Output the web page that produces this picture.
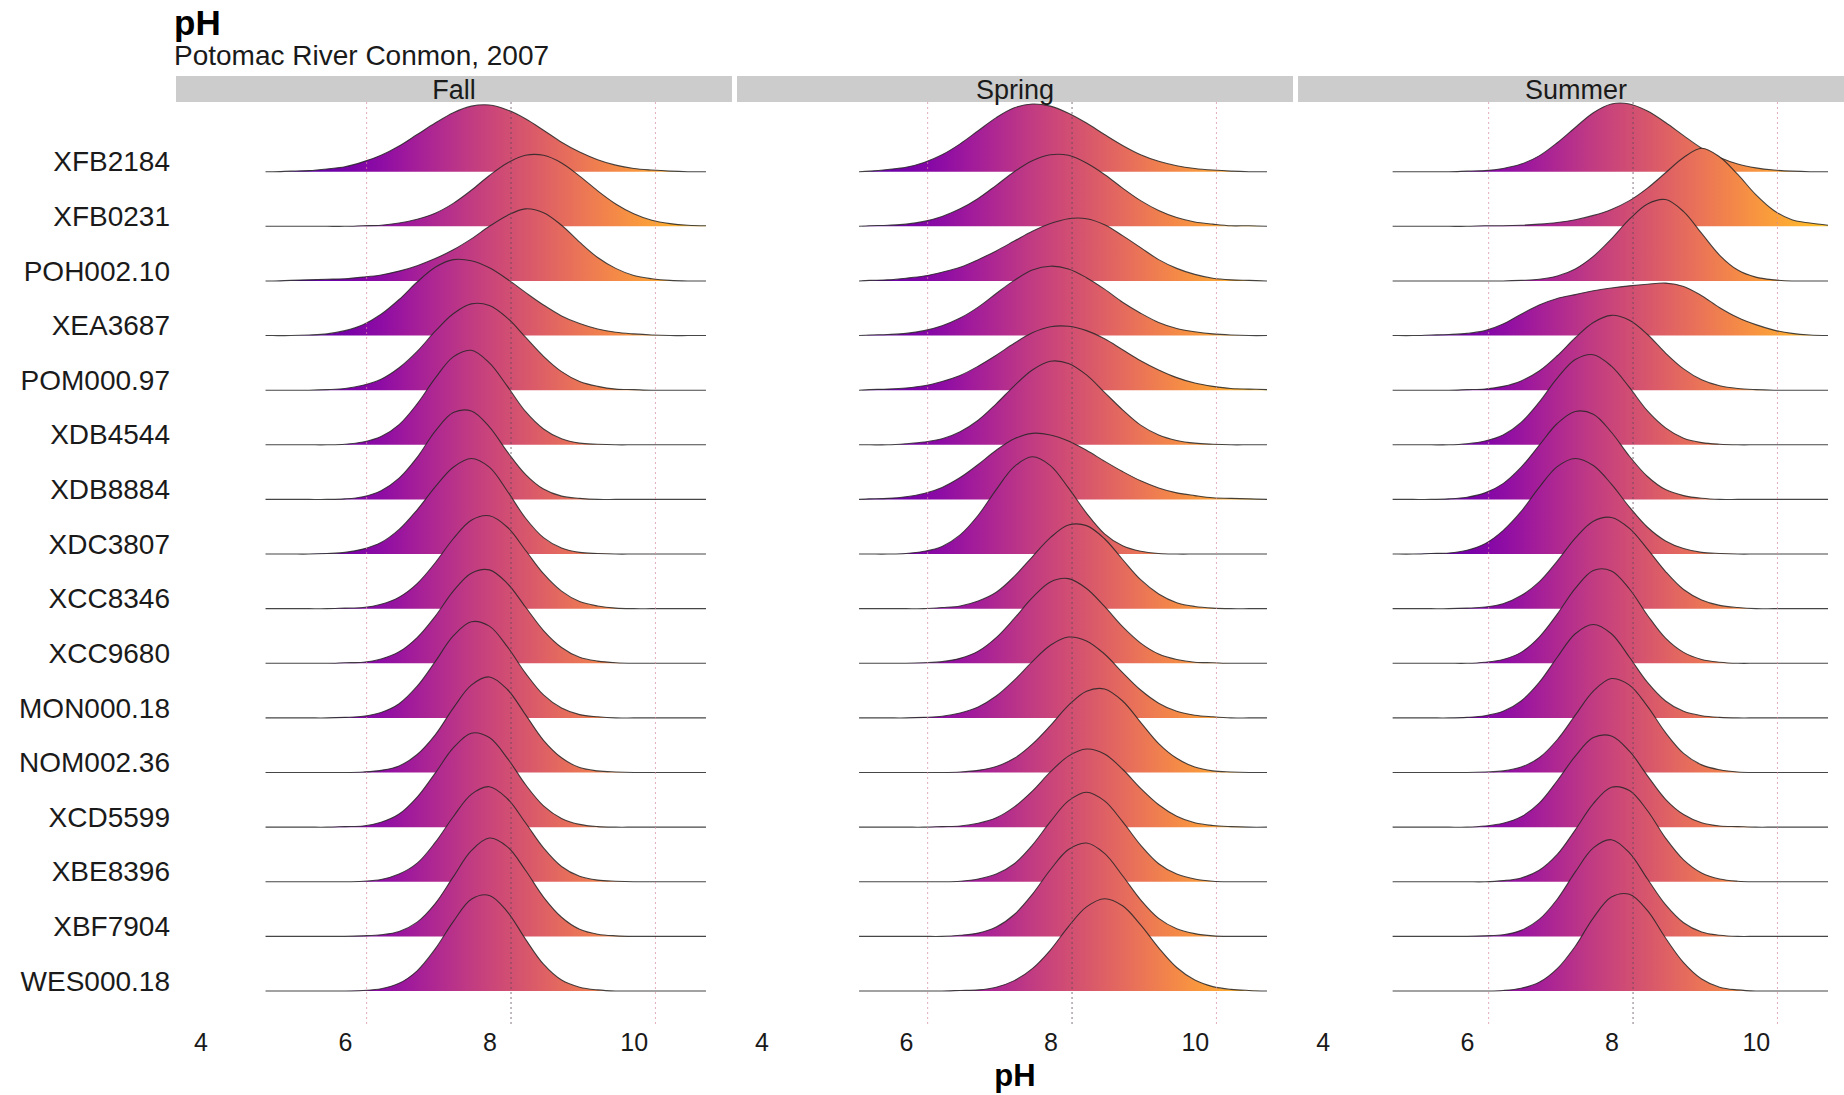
<!DOCTYPE html>
<html>
<head>
<meta charset="utf-8">
<script src="https://cdn.jsdelivr.net/npm/d3@7"></script>
<style>
  body { margin: 0; background: #fff; }
  text { font-family: 'Liberation Sans', Arial, Helvetica, sans-serif; }
</style>
</head>
<body>
<div id="ridges"></div>
<script>
// stations, top row first
const sites = ['XFB2184', 'XFB0231', 'POH002.10', 'XEA3687', 'POM000.97', 'XDB4544',
  'XDB8884', 'XDC3807', 'XCC8346', 'XCC9680', 'MON000.18', 'NOM002.36',
  'XCD5599', 'XBE8396', 'XBF7904', 'WES000.18']

const seasons = ['Fall', 'Spring', 'Summer']

const phGrid = [5.0, 5.25, 5.5, 5.75, 6.0, 6.25, 6.5, 6.75, 7.0, 7.25, 7.5, 7.75, 8.0,
  8.25, 8.5, 8.75, 9.0, 9.25, 9.5, 9.75, 10.0, 10.25, 10.5, 10.75, 11.0]

// where each season's density line starts / ends
const ridgeStart = [4.9, 5.35, 4.97]
const ridgeEnd = 11.0

const xTicks = [4, 6, 8, 10]
const refLines = [6.3, 8.3, 10.3]

// ridge heights (1 = one row) per site, on phGrid
const fallDensity = [
  [0, .01, .02, .05, .09, .18, .30, .47, .68, .89, 1.08, 1.20, 1.22, 1.13, .97, .76, .54, .36, .22, .12, .06, .03, .01, 0, 0],
  [0, 0, 0, 0, 0, .01, .02, .06, .13, .24, .42, .66, .93, 1.16, 1.30, 1.30, 1.16, .92, .65, .41, .23, .11, .05, .02, .01],
  [0, .01, .02, .03, .04, .07, .11, .18, .28, .41, .57, .77, 1.0, 1.2, 1.32, 1.25, 1.02, .71, .43, .23, .10, .04, .01, 0, 0],
  [0, 0, .01, .03, .09, .20, .39, .66, .98, 1.25, 1.39, 1.37, 1.24, 1.03, .79, .56, .36, .22, .12, .06, .03, .01, 0, 0, 0],
  [0, 0, 0, .01, .03, .09, .20, .41, .71, 1.08, 1.40, 1.58, 1.55, 1.32, .97, .62, .34, .16, .07, .02, .01, 0, 0, 0, 0],
  [0, 0, 0, 0, .01, .05, .15, .37, .75, 1.22, 1.61, 1.73, 1.50, 1.07, .61, .29, .11, .03, .01, 0, 0, 0, 0, 0, 0],
  [0, 0, 0, 0, .01, .05, .16, .39, .77, 1.25, 1.59, 1.62, 1.33, .87, .46, .19, .06, .02, 0, 0, 0, 0, 0, 0, 0],
  [0, 0, 0, .01, .03, .09, .21, .45, .81, 1.23, 1.59, 1.75, 1.59, 1.15, .66, .30, .11, .03, .01, 0, 0, 0, 0, 0, 0],
  [0, 0, 0, 0, .01, .02, .08, .21, .46, .84, 1.28, 1.62, 1.70, 1.49, 1.07, .64, .32, .13, .05, .01, 0, 0, 0, 0, 0],
  [0, 0, 0, 0, .01, .02, .08, .21, .47, .86, 1.32, 1.65, 1.71, 1.46, 1.03, .60, .29, .11, .04, .01, 0, 0, 0, 0, 0],
  [0, 0, 0, 0, .01, .03, .10, .26, .58, 1.03, 1.50, 1.76, 1.68, 1.30, .82, .42, .18, .06, .02, 0, 0, 0, 0, 0, 0],
  [0, 0, 0, 0, 0, .01, .04, .12, .33, .69, 1.18, 1.60, 1.75, 1.52, 1.06, .59, .27, .09, .03, .01, 0, 0, 0, 0, 0],
  [0, 0, 0, 0, .01, .02, .09, .24, .55, .99, 1.45, 1.72, 1.64, 1.26, .78, .39, .16, .05, .01, 0, 0, 0, 0, 0, 0],
  [0, 0, 0, 0, 0, .01, .04, .14, .34, .72, 1.19, 1.60, 1.74, 1.52, 1.08, .62, .28, .10, .03, .01, 0, 0, 0, 0, 0],
  [0, 0, 0, 0, 0, .01, .03, .09, .26, .60, 1.09, 1.57, 1.80, 1.64, 1.21, .72, .35, .13, .04, .01, 0, 0, 0, 0, 0],
  [0, 0, 0, 0, 0, .01, .04, .14, .37, .77, 1.27, 1.68, 1.75, 1.45, .95, .49, .20, .07, .02, 0, 0, 0, 0, 0, 0]
]

const springDensity = [
  [0, 0, .01, .04, .08, .17, .31, .51, .75, .99, 1.17, 1.24, 1.20, 1.07, .89, .68, .48, .31, .19, .11, .06, .03, .01, 0, 0],
  [0, 0, .01, .02, .04, .09, .18, .32, .51, .75, 1.00, 1.20, 1.31, 1.30, 1.16, .95, .70, .47, .29, .16, .08, .04, .01, .01, 0],
  [0, 0, .01, .02, .05, .09, .16, .25, .39, .55, .73, .91, 1.05, 1.14, 1.14, 1.03, .83, .61, .39, .23, .12, .05, .02, .01, 0],
  [0, 0, .01, .02, .04, .09, .18, .32, .52, .77, 1.01, 1.20, 1.27, 1.22, 1.06, .85, .61, .41, .24, .13, .07, .03, .01, 0, 0],
  [0, 0, .01, .02, .04, .08, .16, .27, .44, .64, .86, 1.05, 1.16, 1.17, 1.09, .94, .74, .54, .37, .23, .13, .07, .03, .02, .01],
  [0, 0, 0, 0, .02, .05, .11, .24, .45, .75, 1.08, 1.37, 1.53, 1.49, 1.28, .96, .64, .36, .18, .08, .03, .01, 0, 0, 0],
  [0, 0, .01, .02, .05, .11, .22, .40, .64, .90, 1.11, 1.21, 1.18, 1.07, .90, .70, .51, .34, .21, .12, .07, .03, .02, .01, 0],
  [0, 0, 0, 0, .01, .05, .14, .35, .71, 1.18, 1.60, 1.78, 1.62, 1.21, .75, .37, .15, .05, .01, 0, 0, 0, 0, 0, 0],
  [0, 0, 0, 0, 0, 0, .02, .05, .14, .30, .59, .95, 1.30, 1.53, 1.52, 1.28, .90, .53, .27, .11, .04, .01, 0, 0, 0],
  [0, 0, 0, 0, 0, .01, .03, .09, .22, .47, .82, 1.20, 1.49, 1.55, 1.37, 1.04, .67, .37, .17, .07, .02, .01, 0, 0, 0],
  [0, 0, 0, 0, 0, .01, .03, .09, .20, .40, .69, 1.03, 1.33, 1.48, 1.41, 1.17, .83, .51, .27, .12, .05, .02, 0, 0, 0],
  [0, 0, 0, 0, 0, 0, 0, .01, .04, .11, .26, .52, .86, 1.23, 1.49, 1.53, 1.31, .92, .53, .26, .10, .03, .01, 0, 0],
  [0, 0, 0, 0, 0, 0, .01, .02, .07, .17, .37, .66, 1.01, 1.30, 1.43, 1.34, 1.06, .71, .41, .20, .08, .03, .01, 0, 0],
  [0, 0, 0, 0, 0, 0, 0, .01, .05, .14, .33, .67, 1.10, 1.48, 1.64, 1.48, 1.10, .67, .33, .14, .05, .01, 0, 0, 0],
  [0, 0, 0, 0, 0, 0, 0, .02, .06, .17, .40, .77, 1.22, 1.59, 1.71, 1.52, 1.11, .67, .33, .14, .05, .01, 0, 0, 0],
  [0, 0, 0, 0, 0, 0, 0, .01, .02, .07, .19, .41, .75, 1.18, 1.54, 1.69, 1.56, 1.21, .79, .43, .20, .08, .03, .01, 0]
]

const summerDensity = [
  [0, 0, 0, 0, .01, .02, .06, .14, .29, .53, .81, 1.08, 1.24, 1.24, 1.11, .90, .66, .43, .26, .14, .07, .03, .01, 0, 0],
  [0, 0, 0, 0, 0, .01, .01, .02, .04, .07, .12, .20, .31, .47, .70, .98, 1.26, 1.43, 1.27, .95, .58, .29, .12, .06, .02],
  [0, 0, 0, 0, 0, 0, 0, .01, .03, .09, .22, .45, .77, 1.13, 1.41, 1.49, 1.27, .87, .47, .20, .07, .02, 0, 0, 0],
  [0, 0, .01, .02, .04, .09, .21, .39, .56, .68, .75, .82, .87, .91, .94, .96, .90, .73, .51, .33, .20, .10, .04, .01, 0],
  [0, 0, 0, 0, .01, .02, .07, .17, .35, .63, .96, 1.24, 1.37, 1.28, 1.02, .68, .39, .19, .08, .03, .01, 0, 0, 0, 0],
  [0, 0, 0, 0, .02, .07, .18, .41, .78, 1.22, 1.56, 1.65, 1.44, 1.05, .62, .31, .12, .04, .01, 0, 0, 0, 0, 0, 0],
  [0, 0, 0, .01, .04, .12, .29, .59, .99, 1.39, 1.61, 1.56, 1.23, .79, .42, .18, .07, .02, 0, 0, 0, 0, 0, 0, 0],
  [0, 0, .01, .02, .07, .19, .43, .78, 1.22, 1.60, 1.75, 1.62, 1.28, .86, .49, .24, .10, .03, .01, 0, 0, 0, 0, 0, 0],
  [0, 0, 0, 0, .01, .03, .09, .24, .49, .87, 1.29, 1.60, 1.67, 1.47, 1.09, .68, .35, .16, .06, .02, 0, 0, 0, 0, 0],
  [0, 0, 0, 0, 0, .02, .07, .20, .48, .90, 1.37, 1.70, 1.69, 1.36, .88, .46, .20, .07, .02, 0, 0, 0, 0, 0, 0],
  [0, 0, 0, 0, .01, .04, .12, .31, .65, 1.11, 1.54, 1.71, 1.54, 1.11, .65, .31, .12, .04, .01, 0, 0, 0, 0, 0, 0],
  [0, 0, 0, 0, 0, .01, .03, .10, .27, .60, 1.05, 1.49, 1.72, 1.60, 1.21, .73, .35, .14, .05, .01, 0, 0, 0, 0, 0],
  [0, 0, 0, 0, 0, .02, .07, .19, .44, .85, 1.30, 1.64, 1.67, 1.39, .94, .51, .23, .08, .02, .01, 0, 0, 0, 0, 0],
  [0, 0, 0, 0, 0, 0, .02, .07, .21, .50, .95, 1.43, 1.73, 1.67, 1.30, .80, .40, .16, .05, .01, 0, 0, 0, 0, 0],
  [0, 0, 0, 0, 0, .01, .03, .11, .31, .68, 1.18, 1.62, 1.77, 1.53, 1.05, .58, .25, .08, .02, 0, 0, 0, 0, 0, 0],
  [0, 0, 0, 0, 0, 0, .01, .05, .16, .41, .82, 1.34, 1.72, 1.77, 1.47, .97, .52, .22, .07, .02, 0, 0, 0, 0, 0]
]

const densityBySeason = [fallDensity, springDensity, summerDensity]

const width = 1844
const height = 1095
const plotLeft = 176
const plotRight = 1854
const panelTop = 102
const panelBottom = 1025

const svg = d3
  .select('#ridges')
  .append('svg')
  .attr('width', width)
  .attr('height', height)

const panelScale = d3
  .scaleBand()
  .domain(seasons)
  .range([plotLeft, plotRight])
  .paddingInner(0.009)

const xPositionScale = d3
  .scaleLinear()
  .domain([3.66, 11.36])
  .range([0, panelScale.bandwidth()])

const yPositionScale = d3
  .scalePoint()
  .domain(sites)
  .range([171.7, 991])

const heightScale = d3
  .scaleLinear()
  .domain([0, 1])
  .range([0, yPositionScale.step()])

// fill colour follows pH along the plasma ramp
const colourDomain = [4.2, 11.95]

const gradient = svg
  .append('defs')
  .append('linearGradient')
  .attr('id', 'ph-fill')
  .attr('gradientUnits', 'userSpaceOnUse')
  .attr('x1', xPositionScale(colourDomain[0]))
  .attr('x2', xPositionScale(colourDomain[1]))
  .attr('y1', 0)
  .attr('y2', 0)

gradient
  .selectAll('stop')
  .data(d3.range(0, 1.0001, 0.05))
  .enter()
  .append('stop')
  .attr('offset', d => d)
  .attr('stop-color', d => d3.interpolatePlasma(d))

const area = d3
  .area()
  .x(d => xPositionScale(d.ph))
  .y0(0)
  .y1(d => -heightScale(d.v))
  .curve(d3.curveCatmullRom)

const line = d3
  .line()
  .x(d => xPositionScale(d.ph))
  .y(d => -heightScale(d.v))
  .curve(d3.curveCatmullRom)

function ridgePoints(values, start) {
  const points = [{ ph: start, v: 0 }]
  phGrid.forEach((ph, i) => {
    if (ph > start && ph <= ridgeEnd) points.push({ ph: ph, v: values[i] })
  })
  return points
}

seasons.forEach((season, s) => {
  const panel = svg
    .append('g')
    .attr('transform', 'translate(' + panelScale(season) + ',0)')

  // strip
  panel
    .append('rect')
    .attr('x', 0)
    .attr('y', 76)
    .attr('width', panelScale.bandwidth())
    .attr('height', 26)
    .attr('fill', '#cccccc')

  panel
    .append('text')
    .text(season)
    .attr('x', panelScale.bandwidth() / 2)
    .attr('y', 99)
    .attr('text-anchor', 'middle')
    .attr('font-size', 27)
    .attr('fill', '#1a1a1a')

  // ridges, top row first so lower rows sit in front
  sites.forEach((site, i) => {
    const points = ridgePoints(densityBySeason[s][i], ridgeStart[s])
    const ridge = panel
      .append('g')
      .attr('transform', 'translate(0,' + yPositionScale(site) + ')')

    ridge
      .append('path')
      .datum(points)
      .attr('d', area)
      .attr('fill', 'url(#ph-fill)')

    ridge
      .append('path')
      .datum(points)
      .attr('d', line)
      .attr('fill', 'none')
      .attr('stroke', '#262626')
      .attr('stroke-width', 1.1)
      .attr('stroke-opacity', 0.85)
  })

  // dotted reference lines
  panel
    .selectAll('.ref-line')
    .data(refLines)
    .enter()
    .append('line')
    .attr('class', 'ref-line')
    .attr('x1', d => xPositionScale(d))
    .attr('x2', d => xPositionScale(d))
    .attr('y1', panelTop)
    .attr('y2', panelBottom)
    .attr('stroke', (d, i) => (i === 1 ? '#5a4a5a' : '#d98a9e'))
    .attr('stroke-opacity', (d, i) => (i === 1 ? 0.75 : 0.7))
    .attr('stroke-width', 1)
    .attr('stroke-dasharray', '2,3')

  const xAxis = d3
    .axisBottom(xPositionScale)
    .tickValues(xTicks)
    .tickSize(0)
    .tickPadding(3)

  panel
    .append('g')
    .attr('class', 'axis x-axis')
    .attr('transform', 'translate(0,1030)')
    .call(xAxis)
    .attr('font-size', 25)
    .attr('font-family', "'Liberation Sans', Arial, sans-serif")

  panel.selectAll('.x-axis path').remove()
  panel.selectAll('.x-axis text').attr('fill', '#1a1a1a')
})

const yAxis = d3
  .axisLeft(yPositionScale)
  .tickSize(0)
  .tickPadding(6)

svg
  .append('g')
  .attr('class', 'axis y-axis')
  .attr('transform', 'translate(' + plotLeft + ',0)')
  .call(yAxis)
  .attr('font-size', 28)
  .attr('font-family', "'Liberation Sans', Arial, sans-serif")

svg.selectAll('.y-axis path').remove()
svg
  .selectAll('.y-axis text')
  .attr('dy', '-0.03em')
  .attr('fill', '#1a1a1a')

svg
  .append('text')
  .text('pH')
  .attr('x', 174)
  .attr('y', 35)
  .attr('font-size', 35)
  .attr('font-weight', 'bold')
  .attr('fill', '#000')

svg
  .append('text')
  .text('Potomac River Conmon, 2007')
  .attr('x', 174)
  .attr('y', 65)
  .attr('font-size', 28)
  .attr('fill', '#1a1a1a')

svg
  .append('text')
  .text('pH')
  .attr('x', (plotLeft + plotRight) / 2)
  .attr('y', 1086)
  .attr('text-anchor', 'middle')
  .attr('font-size', 31)
  .attr('font-weight', 'bold')
  .attr('fill', '#000')
</script>
</body>
</html>
